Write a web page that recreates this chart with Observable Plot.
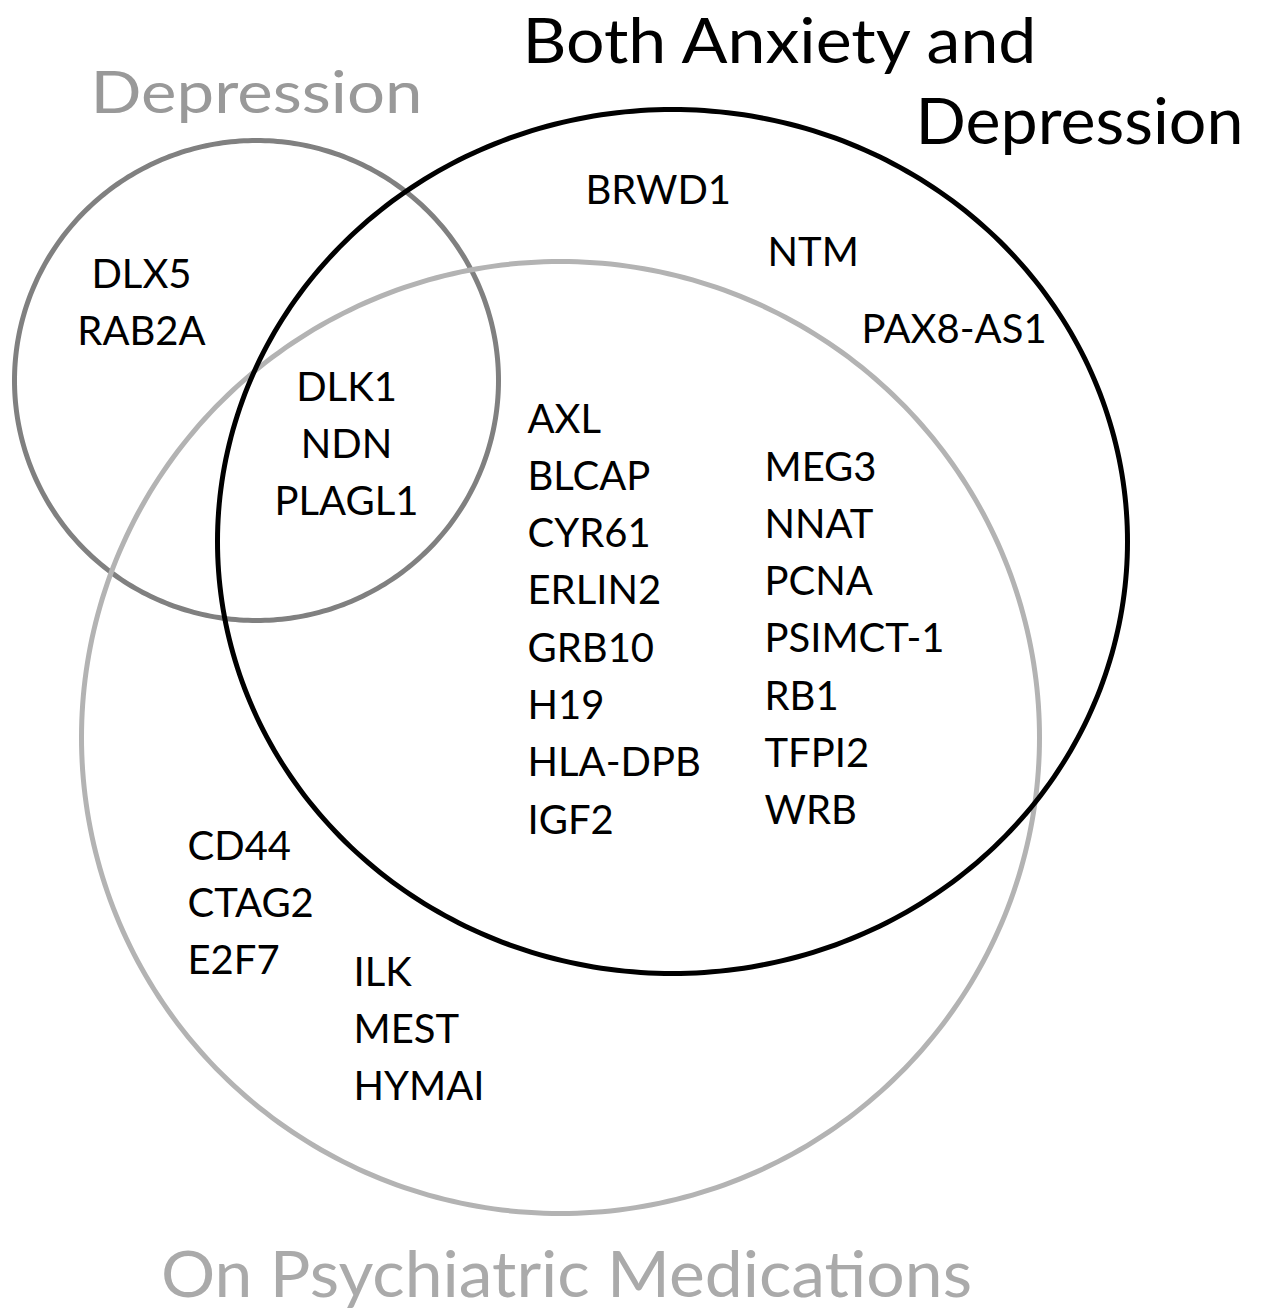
<!DOCTYPE html>
<html>
<head>
<meta charset="utf-8">
<script src="https://cdn.jsdelivr.net/npm/d3@7"></script>
<script src="https://cdn.jsdelivr.net/npm/@observablehq/plot@0.6"></script>
<style>
  html, body { margin: 0; padding: 0; background: #fff; }
  #chart svg { display: block; }
</style>
</head>
<body>
<div id="chart"></div>
<script>
// ---- Data: set names and the genes in each region ----
const setNames = ["Depression", "Both Anxiety and\nDepression", "On Psychiatric Medications"];
const depressionOnly = ["DLX5", "RAB2A"];
const allThree = ["DLK1", "NDN", "PLAGL1"];
const bothOnly = ["BRWD1", "NTM", "PAX8-AS1"];
const bothAndMedsCol1 = ["AXL", "BLCAP", "CYR61", "ERLIN2", "GRB10", "H19", "HLA-DPB", "IGF2"];
const bothAndMedsCol2 = ["MEG3", "NNAT", "PCNA", "PSIMCT-1", "RB1", "TFPI2", "WRB"];
const medsOnlyCol1 = ["CD44", "CTAG2", "E2F7"];
const medsOnlyCol2 = ["ILK", "MEST", "HYMAI"];

// ---- Layout (drawing geometry, in page units) ----
const W = 1266, H = 1311;
const circles = [
  {set: setNames[0], cx: 256, cy: 380, rx: 242, ry: 240, stroke: "#808080"},
  {set: setNames[2], cx: 560, cy: 737, rx: 479, ry: 476, stroke: "#b3b3b3"},
  {set: setNames[1], cx: 672, cy: 541, rx: 455, ry: 432, stroke: "#000000"}
];
const step = 57.3;
const groups = [
  {names: depressionOnly, x: 141, y0: 287, anchor: "middle"},
  {names: allThree, x: 346, y0: 400, anchor: "middle"},
  {names: bothAndMedsCol1, x: 527, y0: 432, anchor: "start"},
  {names: bothAndMedsCol2, x: 764, y0: 480, anchor: "start"},
  {names: medsOnlyCol1, x: 187, y0: 859, anchor: "start"},
  {names: medsOnlyCol2, x: 353, y0: 985, anchor: "start"}
];
const diagonal = [{x: 585, y: 203}, {x: 767, y: 265}, {x: 861, y: 342}];

const labels = [];
for (const g of groups) g.names.forEach((n, i) => labels.push({name: n, x: g.x, y: g.y0 + i * step, anchor: g.anchor}));
bothOnly.forEach((n, i) => labels.push({name: n, x: diagonal[i].x, y: diagonal[i].y, anchor: "start"}));

const outline = [];
for (const c of circles) {
  for (let k = 0; k <= 360; k++) {
    const t = k * Math.PI / 180;
    outline.push({set: c.set, stroke: c.stroke, x: c.cx + c.rx * Math.cos(t), y: c.cy + c.ry * Math.sin(t)});
  }
}

const [l1, l2] = setNames[1].split("\n");
const titles = [
  {text: setNames[0], x: 256, y: 112, anchor: "middle", fill: "#999999", size: 58, len: 332},
  {text: l1, x: 522, y: 62, anchor: "start", fill: "#000000", size: 62, len: 514},
  {text: l2, x: 1243, y: 143, anchor: "end", fill: "#000000", size: 63, len: 328},
  {text: setNames[2], x: 566, y: 1296, anchor: "middle", fill: "#aaaaaa", size: 64, len: 811}
];

const font = "Lato, 'Open Sans', sans-serif";
const chart = Plot.plot({
  width: W, height: H,
  margin: 0,
  x: {domain: [0, W], range: [0, W], axis: null},
  y: {domain: [0, H], range: [0, H], axis: null},
  style: {fontFamily: font, background: "#fff"},
  marks: [
    ...circles.map(c => Plot.line(outline.filter(d => d.set === c.set), {
      x: "x", y: "y", stroke: c.stroke, strokeWidth: 5, curve: "linear-closed"
    })),
    Plot.text(labels.filter(d => d.anchor === "start"), {x: "x", y: "y", text: "name", textAnchor: "start", lineAnchor: "bottom", fontSize: 40, fill: "#000"}),
    Plot.text(labels.filter(d => d.anchor === "middle"), {x: "x", y: "y", text: "name", textAnchor: "middle", lineAnchor: "bottom", fontSize: 40, fill: "#000"}),
    ...titles.map(t => Plot.text([t], {x: "x", y: "y", text: "text", textAnchor: t.anchor, lineAnchor: "bottom", fontSize: t.size, fill: t.fill}))
  ]
});
// stretch the set titles to the reference's widths
const textGroups = chart.querySelectorAll('g[aria-label="text"]');
const titleGroups = Array.from(textGroups).slice(-titles.length);
titleGroups.forEach((g, i) => {
  g.querySelectorAll("text").forEach(el => {
    el.setAttribute("textLength", titles[i].len);
    el.setAttribute("lengthAdjust", "spacingAndGlyphs");
  });
});
document.getElementById("chart").appendChild(chart);
</script>
</body>
</html>
